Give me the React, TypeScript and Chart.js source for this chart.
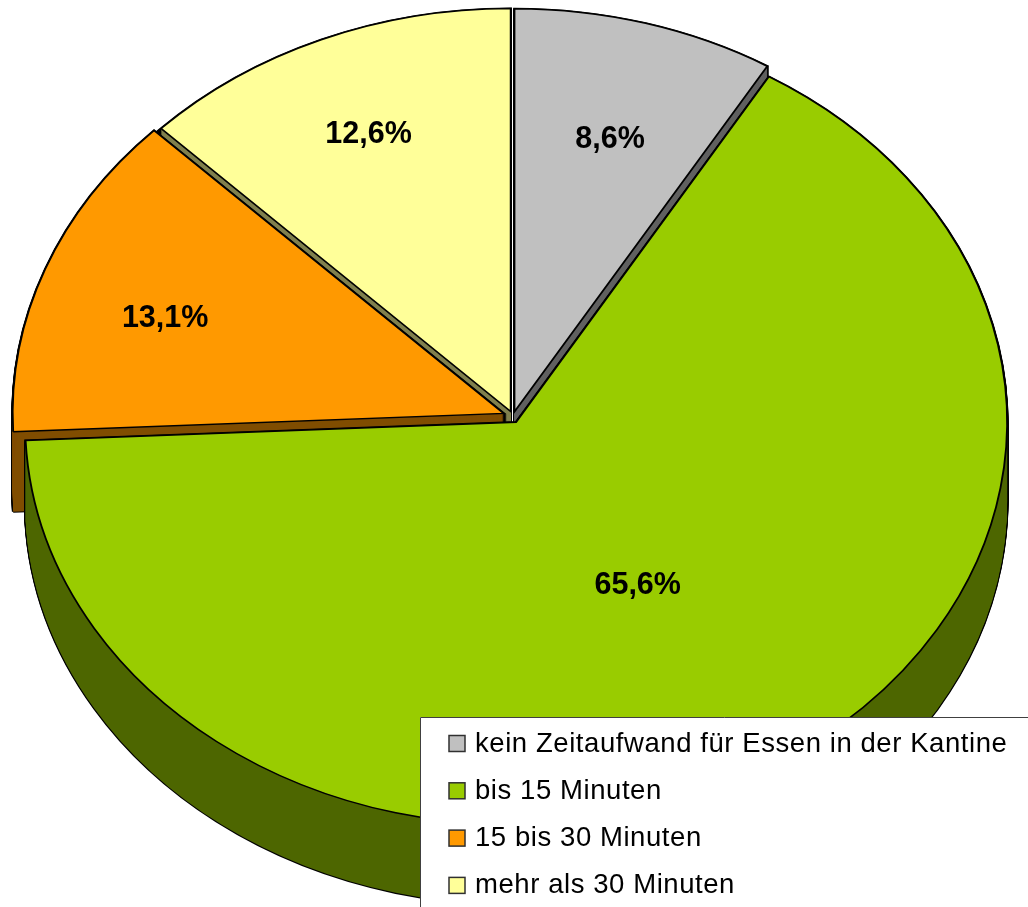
import React, { useEffect, useRef } from "react";
import { Chart, registerables } from "chart.js";

Chart.register(...registerables);

const categories = ["kein Zeitaufwand für Essen in der Kantine", "bis 15 Minuten", "15 bis 30 Minuten", "mehr als 30 Minuten"];
const values = [8.6, 65.6, 13.1, 12.6];
const valueLabels = ["8,6%", "65,6%", "13,1%", "12,6%"];
const topColors = ["#C0C0C0", "#99CC00", "#FF9900", "#FFFF99"];
const wallColors = ["#606060", "#4D6600", "#804D00", "#80804D"];
const explode = [5.5, 6, 10, 6];
const labelFractions = [0.707, 0.47, 0.73, 0.75];
const labelAngleNudge = [0.5, -1, -1.8, 0];
const wallOrder = [3, 0, 2, 1];
const topOrder = [3, 0, 2, 1];

const CENTER_X = 513;
const CENTER_Y = 417;
const RADIUS_X = 491;
const RADIUS_Y = 403;
const DEPTH = 80;
const FONT = '"Liberation Sans", Arial, sans-serif';

function sliceCenter(el: any, i: number) {
  const mid = (el.startAngle + el.endAngle) / 2;
  return { x: CENTER_X + Math.cos(mid) * explode[i], y: CENTER_Y + Math.sin(mid) * explode[i], mid };
}

function drawSlice(ctx: CanvasRenderingContext2D, el: any, i: number, dy: number) {
  const c = sliceCenter(el, i);
  ctx.save();
  ctx.translate(c.x, c.y + dy);
  ctx.scale(RADIUS_X / el.outerRadius, RADIUS_Y / el.outerRadius);
  ctx.translate(-el.x, -el.y);
  el.draw(ctx);
  ctx.restore();
}

const pie3d = {
  id: "pie3d",
  beforeDatasetDraw(chart: any) {
    const ctx: CanvasRenderingContext2D = chart.ctx;
    const arcs = chart.getDatasetMeta(0).data;
    for (const i of wallOrder) {
      const el = arcs[i];
      const base = el.options;
      el.options = { ...base, backgroundColor: "#000000", borderColor: "#000000", borderWidth: 2.4 };
      for (let d = 0; d <= DEPTH; d += 1) drawSlice(ctx, el, i, d);
      el.options = { ...base, backgroundColor: wallColors[i], borderColor: wallColors[i], borderWidth: 0 };
      for (let d = 0; d <= DEPTH; d += 1) drawSlice(ctx, el, i, d);
      el.options = base;
    }
    for (const i of topOrder) drawSlice(ctx, arcs[i], i, 0);
    return false;
  },
  afterDatasetsDraw(chart: any) {
    const ctx: CanvasRenderingContext2D = chart.ctx;
    const arcs = chart.getDatasetMeta(0).data;

    // value labels
    ctx.save();
    ctx.fillStyle = "#000000";
    ctx.font = `bold 30.5px ${FONT}`;
    ctx.textAlign = "center";
    ctx.textBaseline = "middle";
    arcs.forEach((el: any, i: number) => {
      const c = sliceCenter(el, i);
      const a = c.mid + (labelAngleNudge[i] * Math.PI) / 180;
      const x = c.x + Math.cos(a) * labelFractions[i] * RADIUS_X;
      const y = c.y + Math.sin(a) * labelFractions[i] * RADIUS_Y;
      ctx.fillText(valueLabels[i], x, y + 2);
    });
    ctx.restore();

    // legend
    const left = 420;
    const top = 717;
    ctx.save();
    ctx.fillStyle = "#FFFFFF";
    ctx.strokeStyle = "#404040";
    ctx.lineWidth = 1;
    ctx.fillRect(left, top, chart.width - left, chart.height - top);
    ctx.beginPath();
    ctx.moveTo(left + 0.5, chart.height);
    ctx.lineTo(left + 0.5, top + 0.5);
    ctx.lineTo(chart.width, top + 0.5);
    ctx.stroke();
    ctx.font = `27.5px ${FONT}`;
    ctx.textAlign = "left";
    ctx.textBaseline = "middle";
    (ctx as any).letterSpacing = "0.57px";
    categories.forEach((name, i) => {
      const cy = 743.5 + i * 47.3;
      ctx.fillStyle = topColors[i];
      ctx.strokeStyle = "#303030";
      ctx.lineWidth = 1.5;
      ctx.fillRect(449, cy - 8, 16, 16);
      ctx.strokeRect(449, cy - 8, 16, 16);
      ctx.fillStyle = "#000000";
      ctx.fillText(name, 475, cy + 0.5);
    });
    ctx.restore();
  },
};

export default function App() {
  const ref = useRef<HTMLCanvasElement>(null);
  useEffect(() => {
    const chart = new Chart(ref.current as HTMLCanvasElement, {
      type: "pie",
      data: {
        labels: categories,
        datasets: [
          {
            data: values,
            backgroundColor: topColors,
            borderColor: "#000000",
            borderWidth: 1.7,
            borderJoinStyle: "miter",
            clip: false,
          } as any,
        ],
      },
      options: {
        responsive: false,
        animation: false,
        layout: { padding: 0 },
        plugins: { legend: { display: false }, tooltip: { enabled: false } },
      },
      plugins: [pie3d],
    } as any);
    return () => chart.destroy();
  }, []);
  return (
    <div style={{ position: "absolute", left: 0, top: 0, width: 1028, height: 907, background: "#fff" }}>
      <canvas ref={ref} width={1028} height={907} style={{ display: "block" }} />
    </div>
  );
}
